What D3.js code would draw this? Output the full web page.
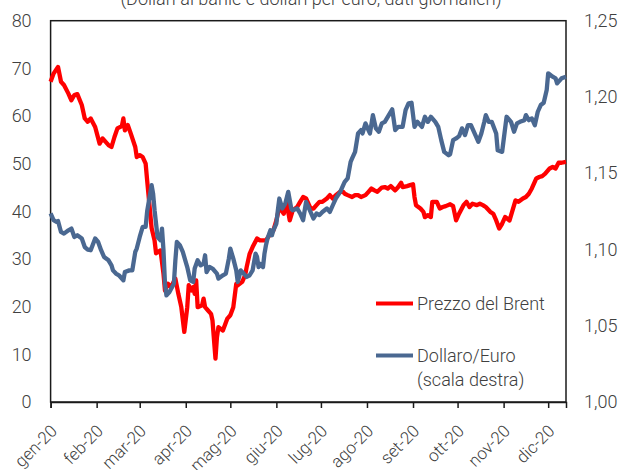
<!DOCTYPE html>
<html>
<head>
<meta charset="utf-8">
<script src="https://cdn.jsdelivr.net/npm/d3@7"></script>
<style>
  body { margin: 0; background: #fff; }
  svg text { font-family: Roboto, "Noto Sans", sans-serif; font-weight: 300; fill: #404040; }
</style>
</head>
<body>
<svg id="chart" width="622" height="470"></svg>
<script>
// Brent (dollari al barile), scala sinistra
const brent = [
  ["2020-01-01",67.2],["2020-01-03",68.9],["2020-01-06",70.3],["2020-01-08",67.2],["2020-01-10",66.5],
  ["2020-01-13",64.7],["2020-01-15",63.3],["2020-01-17",64.4],["2020-01-19",64.6],["2020-01-22",62.3],
  ["2020-01-24",59.5],["2020-01-26",58.8],["2020-01-28",59.5],["2020-01-31",57.7],["2020-02-03",54.2],
  ["2020-02-05",55.3],["2020-02-09",53.9],["2020-02-11",53.5],["2020-02-13",55.6],["2020-02-15",57.4],
  ["2020-02-18",57.9],["2020-02-19",59.5],["2020-02-20",57.0],["2020-02-22",58.1],["2020-02-24",56.3],
  ["2020-02-27",53.5],["2020-02-28",51.4],["2020-03-01",51.8],["2020-03-03",51.4],["2020-03-05",50.0],
  ["2020-03-06",46.5],["2020-03-09",36.5],["2020-03-11",33.9],["2020-03-12",31.2],["2020-03-15",31.8],
  ["2020-03-17",26.9],["2020-03-18",23.4],["2020-03-20",24.8],["2020-03-22",24.1],["2020-03-25",25.9],
  ["2020-03-27",22.7],["2020-03-29",19.9],["2020-03-31",14.7],["2020-04-02",19.9],["2020-04-03",24.5],
  ["2020-04-05",23.4],["2020-04-06",24.1],["2020-04-07",22.7],["2020-04-08",25.5],["2020-04-09",19.9],
  ["2020-04-12",20.3],["2020-04-13",21.7],["2020-04-14",19.9],["2020-04-16",19.2],["2020-04-18",18.5],
  ["2020-04-19",17.1],["2020-04-21",9.1],["2020-04-22",13.6],["2020-04-23",15.7],["2020-04-26",15.0],
  ["2020-04-29",17.5],["2020-05-01",18.2],["2020-05-03",19.9],["2020-05-05",24.8],["2020-05-06",24.5],
  ["2020-05-09",25.2],["2020-05-11",26.6],["2020-05-12",28.3],["2020-05-14",31.1],["2020-05-16",32.5],
  ["2020-05-19",34.3],["2020-05-21",33.9],["2020-05-25",33.9],["2020-05-28",35.3],["2020-05-30",36.0],
  ["2020-06-01",38.1],["2020-06-03",40.9],["2020-06-06",39.5],["2020-06-08",41.6],["2020-06-10",38.1],
  ["2020-06-12",40.2],["2020-06-15",40.9],["2020-06-17",42.0],["2020-06-19",43.0],["2020-06-21",42.7],
  ["2020-06-24",40.6],["2020-06-26",40.6],["2020-06-28",41.3],["2020-06-30",42.0],["2020-07-02",42.0],
  ["2020-07-05",42.7],["2020-07-07",43.4],["2020-07-09",42.7],["2020-07-11",43.4],["2020-07-14",44.1],
  ["2020-07-16",44.1],["2020-07-17",43.7],["2020-07-19",43.4],["2020-07-22",43.0],["2020-07-24",43.4],
  ["2020-07-26",43.4],["2020-07-28",43.0],["2020-07-31",43.4],["2020-08-02",44.1],["2020-08-04",44.8],
  ["2020-08-06",44.4],["2020-08-08",44.1],["2020-08-11",45.0],["2020-08-13",45.1],["2020-08-15",44.8],
  ["2020-08-17",45.3],["2020-08-20",44.4],["2020-08-22",45.1],["2020-08-24",46.0],["2020-08-25",45.1],
  ["2020-08-28",45.3],["2020-08-30",45.5],["2020-09-01",45.7],["2020-09-02",43.0],["2020-09-03",41.3],
  ["2020-09-06",40.6],["2020-09-08",39.9],["2020-09-09",38.8],["2020-09-11",39.2],["2020-09-13",38.8],
  ["2020-09-14",42.0],["2020-09-17",42.0],["2020-09-19",40.6],["2020-09-21",40.9],["2020-09-23",41.1],
  ["2020-09-26",41.5],["2020-09-28",41.1],["2020-09-30",38.1],["2020-10-02",39.5],["2020-10-05",41.3],
  ["2020-10-07",42.0],["2020-10-09",40.9],["2020-10-11",41.6],["2020-10-14",41.3],["2020-10-16",41.6],
  ["2020-10-18",41.3],["2020-10-20",40.9],["2020-10-23",39.9],["2020-10-25",39.5],["2020-10-27",38.1],
  ["2020-10-29",36.4],["2020-10-31",37.4],["2020-11-02",38.8],["2020-11-05",38.1],["2020-11-07",40.2],
  ["2020-11-09",42.3],["2020-11-11",42.0],["2020-11-14",42.7],["2020-11-16",43.0],["2020-11-18",43.7],
  ["2020-11-20",44.8],["2020-11-23",46.9],["2020-11-25",47.2],["2020-11-27",47.4],["2020-11-29",47.9],
  ["2020-12-02",49.0],["2020-12-04",49.3],["2020-12-06",49.0],["2020-12-08",50.2],["2020-12-10",50.2],
  ["2020-12-13",50.4]
];

// Dollaro/Euro, scala destra
const dollarEuro = [
  ["2020-01-01",1.1236],["2020-01-03",1.1192],["2020-01-05",1.1181],["2020-01-06",1.1187],["2020-01-08",1.1115],
  ["2020-01-10",1.1104],["2020-01-13",1.1126],["2020-01-15",1.1137],["2020-01-17",1.1082],["2020-01-19",1.1093],
  ["2020-01-22",1.1072],["2020-01-24",1.1016],["2020-01-26",1.0999],["2020-01-28",1.0995],["2020-01-31",1.1072],
  ["2020-02-02",1.1049],["2020-02-04",1.0995],["2020-02-06",1.0951],["2020-02-09",1.0929],["2020-02-11",1.0896],
  ["2020-02-12",1.0863],["2020-02-14",1.0842],["2020-02-16",1.0831],["2020-02-19",1.0798],["2020-02-20",1.0852],
  ["2020-02-23",1.0863],["2020-02-25",1.0863],["2020-02-27",1.0984],["2020-02-28",1.1006],["2020-03-01",1.1082],
  ["2020-03-03",1.1148],["2020-03-05",1.1148],["2020-03-06",1.1250],["2020-03-09",1.1422],["2020-03-10",1.1367],
  ["2020-03-11",1.1257],["2020-03-13",1.1082],["2020-03-15",1.1060],["2020-03-16",1.1137],["2020-03-17",1.0995],
  ["2020-03-18",1.0776],["2020-03-19",1.0699],["2020-03-21",1.0721],["2020-03-24",1.0776],["2020-03-25",1.0929],
  ["2020-03-26",1.1049],["2020-03-28",1.1028],["2020-03-30",1.0984],["2020-04-02",1.0885],["2020-04-04",1.0798],
  ["2020-04-06",1.0787],["2020-04-07",1.0875],["2020-04-09",1.0929],["2020-04-11",1.0896],["2020-04-13",1.0907],
  ["2020-04-14",1.0962],["2020-04-15",1.0852],["2020-04-17",1.0885],["2020-04-19",1.0875],["2020-04-22",1.0842],
  ["2020-04-23",1.0809],["2020-04-26",1.0831],["2020-04-28",1.0842],["2020-04-30",1.0940],["2020-05-01",1.1006],
  ["2020-05-03",1.0940],["2020-05-05",1.0863],["2020-05-06",1.0787],["2020-05-08",1.0863],["2020-05-10",1.0842],
  ["2020-05-12",1.0820],["2020-05-14",1.0831],["2020-05-16",1.0863],["2020-05-18",1.0973],["2020-05-19",1.0951],
  ["2020-05-20",1.0885],["2020-05-21",1.0907],["2020-05-23",1.0885],["2020-05-24",1.0973],["2020-05-25",1.1028],
  ["2020-05-26",1.1071],["2020-05-28",1.1126],["2020-05-29",1.1093],["2020-05-30",1.1126],["2020-06-01",1.1170],
  ["2020-06-02",1.1257],["2020-06-03",1.1334],["2020-06-05",1.1269],["2020-06-07",1.1301],["2020-06-09",1.1378],
  ["2020-06-11",1.1269],["2020-06-12",1.1257],["2020-06-15",1.1269],["2020-06-17",1.1236],["2020-06-19",1.1192],
  ["2020-06-21",1.1312],["2020-06-24",1.1246],["2020-06-26",1.1203],["2020-06-28",1.1236],["2020-06-30",1.1225],
  ["2020-07-02",1.1246],["2020-07-05",1.1269],["2020-07-07",1.1246],["2020-07-09",1.1290],["2020-07-11",1.1334],
  ["2020-07-14",1.1378],["2020-07-16",1.1422],["2020-07-17",1.1443],["2020-07-19",1.1466],["2020-07-21",1.1575],
  ["2020-07-22",1.1597],["2020-07-24",1.1640],["2020-07-26",1.1761],["2020-07-28",1.1783],["2020-07-29",1.1761],
  ["2020-07-31",1.1827],["2020-08-02",1.1783],["2020-08-03",1.1761],["2020-08-05",1.1881],["2020-08-07",1.1794],
  ["2020-08-09",1.1772],["2020-08-11",1.1827],["2020-08-13",1.1837],["2020-08-15",1.1870],["2020-08-18",1.1919],
  ["2020-08-20",1.1783],["2020-08-22",1.1804],["2020-08-25",1.1804],["2020-08-27",1.1914],["2020-08-29",1.1958],
  ["2020-08-31",1.1962],["2020-09-02",1.1804],["2020-09-04",1.1837],["2020-09-07",1.1804],["2020-09-09",1.1870],
  ["2020-09-11",1.1837],["2020-09-13",1.1870],["2020-09-16",1.1837],["2020-09-18",1.1804],["2020-09-20",1.1717],
  ["2020-09-22",1.1640],["2020-09-25",1.1618],["2020-09-26",1.1625],["2020-09-28",1.1717],["2020-09-30",1.1728],
  ["2020-10-02",1.1743],["2020-10-04",1.1794],["2020-10-06",1.1750],["2020-10-08",1.1815],["2020-10-10",1.1815],
  ["2020-10-13",1.1750],["2020-10-15",1.1706],["2020-10-17",1.1761],["2020-10-19",1.1837],["2020-10-20",1.1881],
  ["2020-10-22",1.1837],["2020-10-24",1.1837],["2020-10-27",1.1761],["2020-10-28",1.1651],["2020-10-31",1.1640],
  ["2020-11-01",1.1717],["2020-11-03",1.1870],["2020-11-06",1.1837],["2020-11-08",1.1772],["2020-11-10",1.1827],
  ["2020-11-12",1.1837],["2020-11-15",1.1848],["2020-11-16",1.1881],["2020-11-18",1.1848],["2020-11-20",1.1859],
  ["2020-11-22",1.1815],["2020-11-24",1.1903],["2020-11-26",1.1947],["2020-11-28",1.1962],["2020-11-30",1.2045],
  ["2020-12-01",1.2155],["2020-12-04",1.2133],["2020-12-06",1.2122],["2020-12-07",1.2089],["2020-12-10",1.2122],
  ["2020-12-13",1.2133]
];

const monthTicks = ["2020-01-01","2020-02-01","2020-03-01","2020-04-01","2020-05-01","2020-06-01",
                    "2020-07-01","2020-08-01","2020-09-01","2020-10-01","2020-11-01","2020-12-01"];
const monthLabels = ["gen-20","feb-20","mar-20","apr-20","mag-20","giu-20",
                     "lug-20","ago-20","set-20","ott-20","nov-20","dic-20"];
const leftTicks = [0, 10, 20, 30, 40, 50, 60, 70, 80];
const rightTicks = [1.00, 1.05, 1.10, 1.15, 1.20, 1.25];
const title = "(Dollari al barile e dollari per euro; dati giornalieri)";

const parse = d3.timeParse("%Y-%m-%d");
const svg = d3.select("#chart");
const plot = {left: 50.6, right: 566, top: 20.7, bottom: 402};

const x = d3.scaleTime()
    .domain([parse("2020-01-01"), parse("2020-12-13")])
    .range([plot.left, plot.right]);
const yL = d3.scaleLinear().domain([0, 80]).range([plot.bottom, plot.top]);
const yR = d3.scaleLinear().domain([1.00, 1.25]).range([plot.bottom, plot.top]);

svg.append("rect").attr("width", 622).attr("height", 470).attr("fill", "#fff");

// titolo (tagliato in alto come nell'originale)
svg.append("text")
    .attr("x", 311).attr("y", 5)
    .attr("text-anchor", "middle")
    .attr("font-size", 18)
    .text(title);

// cornice
svg.append("rect")
    .attr("x", plot.left).attr("y", plot.top)
    .attr("width", plot.right - plot.left).attr("height", plot.bottom - plot.top)
    .attr("fill", "none").attr("stroke", "#1a1a1a").attr("stroke-width", 1.5);

// asse sinistro
const axL = svg.append("g")
    .attr("transform", `translate(${plot.left},0)`)
    .call(d3.axisLeft(yL).tickValues(leftTicks).tickSize(0).tickPadding(19).tickFormat(d3.format("d")));
axL.select(".domain").remove();

// asse destro
const axR = svg.append("g")
    .attr("transform", `translate(${plot.right},0)`)
    .call(d3.axisRight(yR).tickValues(rightTicks).tickSize(0).tickPadding(18)
        .tickFormat(d => d3.format(".2f")(d).replace(".", ",")));
axR.select(".domain").remove();

// asse delle date
const axB = svg.append("g")
    .attr("transform", `translate(0,${plot.bottom})`)
    .call(d3.axisBottom(x).tickValues(monthTicks.map(parse)).tickSize(6)
        .tickFormat((d, i) => monthLabels[i]));
axB.select(".domain").attr("stroke", "#1a1a1a").attr("stroke-width", 1.5);
axB.selectAll(".tick line").attr("stroke", "#1a1a1a").attr("stroke-width", 1.5);
axB.selectAll(".tick text")
    .attr("text-anchor", "end")
    .attr("x", 0).attr("y", 0).attr("dy", 0)
    .attr("transform", "translate(7,30) rotate(-45)");

svg.selectAll(".tick text").attr("font-size", 18).attr("fill", "#404040")
    .attr("font-family", "Roboto, 'Noto Sans', sans-serif").attr("font-weight", 300);
axB.selectAll(".tick text").attr("font-size", 17);

// serie
svg.append("path")
    .datum(brent)
    .attr("fill", "none")
    .attr("stroke", "#ff0000")
    .attr("stroke-width", 4.3)
    .attr("stroke-linejoin", "round")
    .attr("d", d3.line().x(d => x(parse(d[0]))).y(d => yL(d[1])));

svg.append("path")
    .datum(dollarEuro)
    .attr("fill", "none")
    .attr("stroke", "#4a6891")
    .attr("stroke-width", 4.3)
    .attr("stroke-linejoin", "round")
    .attr("d", d3.line().x(d => x(parse(d[0]))).y(d => yR(d[1])));

// legenda
const legend = svg.append("g");
legend.append("line").attr("x1", 376).attr("x2", 413).attr("y1", 303.5).attr("y2", 303.5)
    .attr("stroke", "#ff0000").attr("stroke-width", 4);
legend.append("text").attr("x", 417).attr("y", 310).attr("font-size", 18).text("Prezzo del Brent");
legend.append("line").attr("x1", 376).attr("x2", 413).attr("y1", 355.5).attr("y2", 355.5)
    .attr("stroke", "#4a6891").attr("stroke-width", 4);
legend.append("text").attr("x", 417).attr("y", 362).attr("font-size", 18).text("Dollaro/Euro");
legend.append("text").attr("x", 417).attr("y", 386).attr("font-size", 18).text("(scala destra)");
</script>
</body>
</html>
